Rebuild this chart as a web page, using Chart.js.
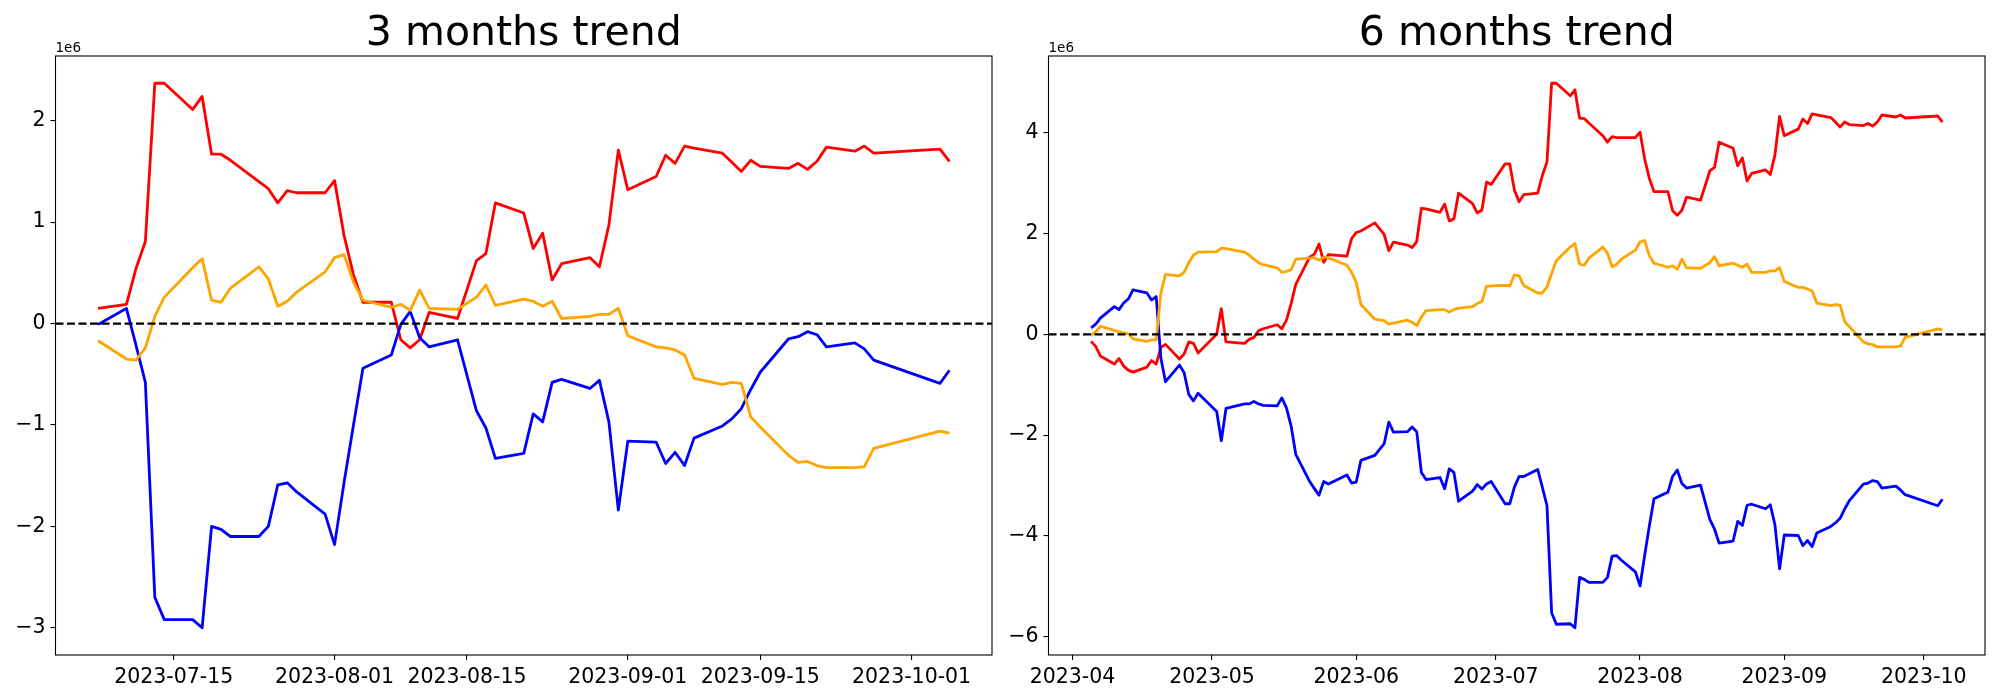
<!DOCTYPE html>
<html>
<head>
<meta charset="utf-8">
<title>3 months / 6 months trend</title>
<script src="https://cdn.jsdelivr.net/npm/chart.js@4.4.1/dist/chart.umd.min.js"></script>
<style>
  html, body { margin: 0; padding: 0; background: #fff; }
  body { width: 2000px; height: 700px; position: relative; overflow: hidden; }
  .panel { position: absolute; top: 0; width: 1000px; height: 700px; }
  #panel3m { left: 0; }
  #panel6m { left: 1000px; }
</style>
</head>
<body>
<div class="panel" id="panel3m"><canvas id="chart3m"></canvas></div>
<div class="panel" id="panel6m"><canvas id="chart6m"></canvas></div>
<script>
// values are in units of 1e6 (shown as the "1e6" offset above each axis)

// ---- 3 months ----
const dates3m = [
  "2023-07-07", "2023-07-10", "2023-07-11", "2023-07-12", "2023-07-13", "2023-07-14",
  "2023-07-17", "2023-07-18", "2023-07-19", "2023-07-20", "2023-07-21",
  "2023-07-24", "2023-07-25", "2023-07-26", "2023-07-27", "2023-07-28", "2023-07-31",
  "2023-08-01", "2023-08-02", "2023-08-03", "2023-08-04",
  "2023-08-07", "2023-08-08", "2023-08-09", "2023-08-10", "2023-08-11",
  "2023-08-14", "2023-08-16", "2023-08-17", "2023-08-18",
  "2023-08-21", "2023-08-22", "2023-08-23", "2023-08-24", "2023-08-25",
  "2023-08-28", "2023-08-29", "2023-08-30", "2023-08-31",
  "2023-09-01", "2023-09-04", "2023-09-05", "2023-09-06", "2023-09-07", "2023-09-08",
  "2023-09-11", "2023-09-12", "2023-09-13", "2023-09-14", "2023-09-15",
  "2023-09-18", "2023-09-19", "2023-09-20", "2023-09-21", "2023-09-22",
  "2023-09-25", "2023-09-26", "2023-09-27", "2023-10-04", "2023-10-05",
];
const red3m = [
  0.15, 0.19, 0.54, 0.81, 2.37, 2.37,
  2.11, 2.24, 1.67, 1.67, 1.61,
  1.40, 1.33, 1.19, 1.31, 1.29, 1.29,
  1.41, 0.87, 0.48, 0.21,
  0.21, -0.16, -0.24, -0.16, 0.11,
  0.05, 0.62, 0.69, 1.19,
  1.09, 0.74, 0.89, 0.43, 0.59,
  0.65, 0.56, 0.97, 1.71,
  1.32, 1.45, 1.66, 1.58, 1.75, 1.73,
  1.68, 1.59, 1.50, 1.61, 1.55,
  1.53, 1.58, 1.52, 1.60, 1.74,
  1.70, 1.75, 1.68, 1.72, 1.60,
];
const blue3m = [
  -0.01, 0.15, -0.21, -0.58, -2.70, -2.92,
  -2.92, -3.00, -2.00, -2.03, -2.10,
  -2.10, -2.00, -1.59, -1.57, -1.66, -1.88,
  -2.18, -1.57, -1.00, -0.44,
  -0.31, -0.01, 0.12, -0.14, -0.23,
  -0.16, -0.86, -1.03, -1.33,
  -1.28, -0.89, -0.97, -0.58, -0.55,
  -0.64, -0.56, -0.97, -1.84,
  -1.16, -1.17, -1.38, -1.27, -1.40, -1.13,
  -1.01, -0.94, -0.84, -0.65, -0.48,
  -0.15, -0.13, -0.08, -0.11, -0.23,
  -0.19, -0.25, -0.36, -0.59, -0.46,
];
const orange3m = [
  -0.17, -0.35, -0.36, -0.24, 0.07, 0.26,
  0.55, 0.64, 0.23, 0.21, 0.35,
  0.56, 0.44, 0.17, 0.22, 0.31, 0.51,
  0.65, 0.68, 0.41, 0.23,
  0.16, 0.19, 0.13, 0.33, 0.15,
  0.14, 0.26, 0.38, 0.18,
  0.24, 0.22, 0.17, 0.22, 0.05,
  0.07, 0.09, 0.09, 0.15,
  -0.12, -0.23, -0.24, -0.26, -0.31, -0.54,
  -0.60, -0.58, -0.59, -0.92, -1.02,
  -1.30, -1.37, -1.36, -1.40, -1.42,
  -1.42, -1.41, -1.23, -1.06, -1.08,
];
const xTicks3m = ["2023-07-15", "2023-08-01", "2023-08-15", "2023-09-01", "2023-09-15", "2023-10-01"];
const yTicks3m = [-3, -2, -1, 0, 1, 2];

// ---- 6 months ----
const dates6m = [
  "2023-04-05", "2023-04-06", "2023-04-07",
  "2023-04-10", "2023-04-11", "2023-04-12", "2023-04-13", "2023-04-14",
  "2023-04-17", "2023-04-18", "2023-04-19", "2023-04-20", "2023-04-21",
  "2023-04-24", "2023-04-25", "2023-04-26", "2023-04-27", "2023-04-28",
  "2023-05-02", "2023-05-03", "2023-05-04",
  "2023-05-08", "2023-05-09", "2023-05-10", "2023-05-11", "2023-05-12",
  "2023-05-15", "2023-05-16", "2023-05-17", "2023-05-18", "2023-05-19",
  "2023-05-22", "2023-05-23", "2023-05-24", "2023-05-25", "2023-05-26",
  "2023-05-30", "2023-05-31",
  "2023-06-01", "2023-06-02",
  "2023-06-05", "2023-06-07", "2023-06-08", "2023-06-09",
  "2023-06-12", "2023-06-13", "2023-06-14", "2023-06-15", "2023-06-16",
  "2023-06-19", "2023-06-20", "2023-06-21", "2023-06-22", "2023-06-23",
  "2023-06-26", "2023-06-27", "2023-06-28", "2023-06-29", "2023-06-30",
  "2023-07-03", "2023-07-04", "2023-07-05", "2023-07-06", "2023-07-07",
  "2023-07-10", "2023-07-11", "2023-07-12", "2023-07-13", "2023-07-14",
  "2023-07-17", "2023-07-18", "2023-07-19", "2023-07-20", "2023-07-21",
  "2023-07-24", "2023-07-25", "2023-07-26", "2023-07-27", "2023-07-28",
  "2023-07-31",
  "2023-08-01", "2023-08-02", "2023-08-03", "2023-08-04",
  "2023-08-07", "2023-08-08", "2023-08-09", "2023-08-10", "2023-08-11",
  "2023-08-14", "2023-08-16", "2023-08-17", "2023-08-18",
  "2023-08-21", "2023-08-22", "2023-08-23", "2023-08-24", "2023-08-25",
  "2023-08-28", "2023-08-29", "2023-08-30", "2023-08-31",
  "2023-09-01",
  "2023-09-04", "2023-09-05", "2023-09-06", "2023-09-07", "2023-09-08",
  "2023-09-11", "2023-09-12", "2023-09-13", "2023-09-14", "2023-09-15",
  "2023-09-18", "2023-09-19", "2023-09-20", "2023-09-21", "2023-09-22",
  "2023-09-25", "2023-09-26", "2023-09-27",
  "2023-10-04", "2023-10-05",
];
const red6m = [
  -0.14, -0.24, -0.43,
  -0.59, -0.48, -0.63, -0.71, -0.75,
  -0.65, -0.52, -0.59, -0.26, -0.20,
  -0.49, -0.39, -0.15, -0.18, -0.37,
  0.00, 0.51, -0.15,
  -0.18, -0.10, -0.06, 0.07, 0.11,
  0.19, 0.11, 0.28, 0.61, 0.99,
  1.53, 1.59, 1.79, 1.43, 1.58,
  1.55, 1.90,
  2.02, 2.05,
  2.21, 1.98, 1.66, 1.83,
  1.77, 1.72, 1.84, 2.50, 2.49,
  2.42, 2.58, 2.25, 2.29, 2.80,
  2.59, 2.41, 2.46, 3.02, 2.97,
  3.38, 3.38, 2.86, 2.63, 2.77,
  2.80, 3.15, 3.42, 4.98, 4.98,
  4.73, 4.85, 4.29, 4.28, 4.19,
  3.94, 3.81, 3.92, 3.90, 3.90,
  3.90,
  4.01, 3.48, 3.09, 2.83,
  2.83, 2.45, 2.36, 2.46, 2.72,
  2.66, 3.24, 3.31, 3.81,
  3.69, 3.34, 3.50, 3.04, 3.19,
  3.26, 3.17, 3.56, 4.32,
  3.94,
  4.07, 4.27, 4.18, 4.37, 4.35,
  4.30, 4.21, 4.11, 4.21, 4.16,
  4.14, 4.18, 4.13, 4.21, 4.35,
  4.31, 4.35, 4.29,
  4.33, 4.21,
];
const blue6m = [
  0.13, 0.20, 0.32,
  0.55, 0.49, 0.62, 0.70, 0.88,
  0.82, 0.68, 0.75, -0.47, -0.94,
  -0.61, -0.76, -1.19, -1.32, -1.17,
  -1.53, -2.11, -1.47,
  -1.38, -1.38, -1.33, -1.38, -1.41,
  -1.42, -1.26, -1.46, -1.82, -2.38,
  -2.92, -3.06, -3.19, -2.92, -2.97,
  -2.79, -2.95,
  -2.93, -2.50,
  -2.40, -2.17, -1.74, -1.94,
  -1.93, -1.84, -1.93, -2.74, -2.88,
  -2.84, -3.06, -2.67, -2.74, -3.31,
  -3.11, -2.98, -3.07, -2.97, -2.92,
  -3.36, -3.36, -3.03, -2.82, -2.82,
  -2.68, -3.03, -3.40, -5.52, -5.75,
  -5.74, -5.82, -4.82, -4.86, -4.92,
  -4.92, -4.82, -4.40, -4.39, -4.48,
  -4.71,
  -4.99, -4.38, -3.80, -3.26,
  -3.13, -2.82, -2.69, -2.96, -3.05,
  -2.99, -3.67, -3.86, -4.14,
  -4.10, -3.71, -3.79, -3.39, -3.37,
  -3.46, -3.38, -3.78, -4.65,
  -3.98,
  -3.99, -4.19, -4.09, -4.21, -3.94,
  -3.81, -3.74, -3.65, -3.46, -3.30,
  -2.97, -2.95, -2.90, -2.92, -3.05,
  -3.01, -3.09, -3.18,
  -3.40, -3.27,
];
const orange6m = [
  -0.02, 0.05, 0.16,
  0.08, 0.05, 0.03, 0.01, -0.09,
  -0.14, -0.11, -0.11, 0.82, 1.19,
  1.16, 1.23, 1.42, 1.57, 1.63,
  1.64, 1.71, 1.70,
  1.63, 1.57, 1.49, 1.42, 1.38,
  1.32, 1.23, 1.25, 1.28, 1.49,
  1.51, 1.52, 1.47, 1.53, 1.52,
  1.37, 1.23,
  1.03, 0.59,
  0.30, 0.27, 0.20, 0.22,
  0.28, 0.24, 0.17, 0.34, 0.47,
  0.49, 0.49, 0.44, 0.49, 0.52,
  0.55, 0.61, 0.65, 0.95, 0.96,
  0.97, 0.96, 1.18, 1.16, 0.97,
  0.82, 0.82, 0.94, 1.21, 1.46,
  1.73, 1.80, 1.39, 1.37, 1.51,
  1.73, 1.61, 1.34, 1.39, 1.49,
  1.67,
  1.83, 1.86, 1.56, 1.41,
  1.33, 1.36, 1.29, 1.49, 1.32,
  1.31, 1.42, 1.54, 1.36,
  1.41, 1.37, 1.33, 1.39, 1.23,
  1.23, 1.26, 1.26, 1.32,
  1.05,
  0.93, 0.93, 0.90, 0.86, 0.62,
  0.57, 0.59, 0.58, 0.25, 0.15,
  -0.15, -0.19, -0.20, -0.25, -0.25,
  -0.25, -0.23, -0.06,
  0.11, 0.09,
];
const xTicks6m = ["2023-04", "2023-05", "2023-06", "2023-07", "2023-08", "2023-09", "2023-10"];
const yTicks6m = [-6, -4, -2, 0, 2, 4];

const FONT = '"DejaVu Sans", sans-serif';

// "2023-07-15" or "2023-04" -> day number
function dayNum(s) {
  const [y, m, d] = s.split("-").map(Number);
  return Date.UTC(y, m - 1, d || 1) / 86400000;
}

function fmtTick(v) {
  return v < 0 ? "\u2212" + Math.abs(v) : String(v);
}

// axes box, dashed zero line and the "1e6" offset label
const axesDecor = {
  id: "axesDecor",
  afterDatasetsDraw(chart) {
    const { ctx, chartArea: a } = chart;
    const y0 = chart.scales.y.getPixelForValue(0);
    ctx.save();
    ctx.strokeStyle = "#000";
    ctx.lineWidth = 2.2;
    ctx.setLineDash([8, 3.5]);
    ctx.beginPath();
    ctx.moveTo(a.left, y0);
    ctx.lineTo(a.right, y0);
    ctx.stroke();
    ctx.restore();
  },
  afterDraw(chart) {
    const { ctx, chartArea: a } = chart;
    ctx.save();
    ctx.strokeStyle = "#000";
    ctx.lineWidth = 1.1;
    ctx.strokeRect(a.left, a.top, a.right - a.left, a.bottom - a.top);
    ctx.fillStyle = "#000";
    ctx.font = "13.5px " + FONT;
    ctx.textAlign = "left";
    ctx.textBaseline = "alphabetic";
    ctx.fillText("1e6", a.left, a.top - 4.5);
    ctx.restore();
  },
};

function drawTrend(canvasId, opts) {
  const xs = opts.dates.map(dayNum);
  const xSpan = xs[xs.length - 1] - xs[0];
  const all = opts.series.flatMap((s) => s.values);
  const lo = Math.min(...all);
  const hi = Math.max(...all);
  const ySpan = hi - lo;
  const tickPos = opts.xTicks.map(dayNum);

  const tickFont = { family: FONT, size: 20.5 };
  const grid = {
    drawOnChartArea: false,
    drawTicks: true,
    tickLength: 5,
    color: "#000",
    lineWidth: 1.1,
  };

  return new Chart(document.getElementById(canvasId), {
    type: "line",
    data: {
      datasets: opts.series.map((s) => ({
        label: s.label,
        data: s.values.map((v, i) => ({ x: xs[i], y: v })),
        borderColor: s.color,
        borderWidth: 2.8,
        borderJoinStyle: "round",
        pointRadius: 0,
        tension: 0,
        fill: false,
        order: s.order,
      })),
    },
    options: {
      responsive: true,
      maintainAspectRatio: false,
      animation: false,
      devicePixelRatio: 1,
      layout: { padding: { left: 0, right: opts.padRight, top: 0, bottom: 0 } },
      plugins: {
        legend: { display: false },
        tooltip: { enabled: false },
        title: {
          display: true,
          text: opts.title,
          fullSize: false,
          color: "#000",
          font: { family: FONT, size: 41, weight: "normal", lineHeight: 1 },
          padding: { top: 14, bottom: 1 },
        },
      },
      scales: {
        x: {
          type: "linear",
          min: xs[0] - 0.05 * xSpan,
          max: xs[xs.length - 1] + 0.05 * xSpan,
          afterBuildTicks: (scale) => {
            scale.ticks = tickPos.map((v) => ({ value: v }));
          },
          afterFit: (scale) => {
            scale.height = 45;
            scale.paddingLeft = 0;
            scale.paddingRight = 0;
          },
          ticks: {
            autoSkip: false,
            maxRotation: 0,
            minRotation: 0,
            padding: 5,
            color: "#000",
            font: tickFont,
            callback: (v, i) => opts.xTicks[i],
          },
          grid: grid,
          border: { display: false },
        },
        y: {
          min: lo - 0.05 * ySpan,
          max: hi + 0.05 * ySpan,
          afterBuildTicks: (scale) => {
            scale.ticks = opts.yTicks.map((v) => ({ value: v }));
          },
          afterFit: (scale) => {
            scale.width = opts.yAxisWidth;
            scale.paddingTop = 0;
            scale.paddingBottom = 0;
          },
          ticks: {
            padding: 5,
            color: "#000",
            font: tickFont,
            callback: (v) => fmtTick(v),
          },
          grid: grid,
          border: { display: false },
        },
      },
    },
    plugins: [axesDecor],
  });
}

drawTrend("chart3m", {
  title: "3 months trend",
  dates: dates3m,
  series: [
    { label: "red", values: red3m, color: "#ff0000", order: 3 },
    { label: "blue", values: blue3m, color: "#0000ff", order: 2 },
    { label: "orange", values: orange3m, color: "#ffa500", order: 1 },
  ],
  xTicks: xTicks3m,
  yTicks: yTicks3m,
  yAxisWidth: 55.5,
  padRight: 8,
});

drawTrend("chart6m", {
  title: "6 months trend",
  dates: dates6m,
  series: [
    { label: "red", values: red6m, color: "#ff0000", order: 3 },
    { label: "blue", values: blue6m, color: "#0000ff", order: 2 },
    { label: "orange", values: orange6m, color: "#ffa500", order: 1 },
  ],
  xTicks: xTicks6m,
  yTicks: yTicks6m,
  yAxisWidth: 48.5,
  padRight: 15,
});
</script>
</body>
</html>
